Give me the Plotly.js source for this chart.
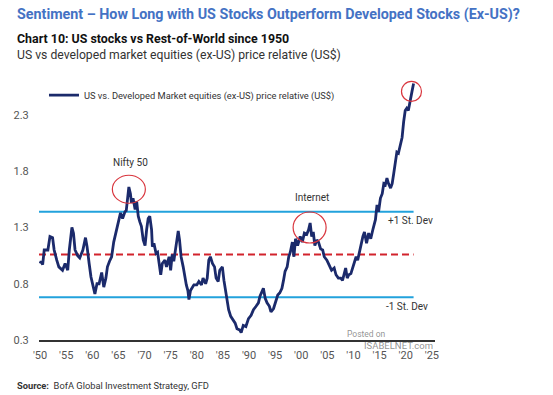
<!DOCTYPE html>
<html>
<head>
<meta charset="utf-8">
<script src="https://cdn.plot.ly/plotly-3.0.1.min.js"></script>
<style>html,body{margin:0;padding:0;background:#fff;}#chart{width:553px;height:395px;}</style>
</head>
<body>
<div id="chart"></div>
<script>
// ---- data ----
const years = [1950.0,1950.2,1950.5,1950.8,1951.5,1951.9,1952.4,1952.7,1953.2,1953.6,1954.3,1954.8,1955.3,1955.6,1956.1,1956.4,1956.7,1957.2,1957.6,1958.2,1958.7,1959.0,1959.4,1959.75,1960.2,1960.5,1960.9,1961.3,1961.8,1962.2,1962.6,1962.9,1963.3,1963.7,1964.1,1964.7,1965.2,1965.4,1965.8,1966.25,1966.5,1966.8,1967.0,1967.3,1967.5,1967.8,1968.2,1968.5,1968.8,1969.1,1969.4,1969.75,1970.1,1970.4,1970.7,1971.0,1971.35,1971.5,1971.8,1972.2,1972.5,1972.8,1973.1,1973.4,1973.9,1974.2,1974.7,1975.0,1975.3,1975.6,1975.9,1976.25,1976.45,1976.7,1977.0,1977.4,1977.7,1978.0,1978.3,1978.5,1978.8,1979.45,1980.0,1980.4,1980.9,1981.2,1981.7,1982.0,1982.3,1982.6,1983.0,1983.4,1983.7,1984.1,1984.4,1984.9,1985.2,1985.6,1985.8,1986.1,1986.5,1986.9,1987.35,1987.7,1988.2,1988.5,1988.9,1989.4,1989.9,1990.4,1990.85,1991.35,1991.8,1992.1,1992.5,1992.75,1993.1,1993.45,1993.9,1994.2,1994.7,1995.2,1995.5,1995.9,1996.3,1996.6,1996.9,1997.3,1997.6,1997.9,1998.3,1998.6,1998.9,1999.3,1999.8,2000.2,2000.6,2001.05,2001.4,2001.7,2002.0,2002.3,2002.6,2003.0,2003.3,2003.7,2004.1,2004.4,2004.9,2005.3,2005.8,2006.3,2006.65,2007.1,2007.55,2007.9,2008.25,2008.5,2008.8,2009.1,2009.5,2009.85,2010.2,2010.5,2010.8,2011.1,2011.4,2011.8,2012.1,2012.5,2012.9,2013.3,2013.7,2014.2,2014.5,2014.8,2015.15,2015.5,2015.8,2016.1,2016.4,2016.7,2017.1,2017.4,2017.7,2018.0,2018.3,2018.6,2018.95,2019.3,2019.6,2019.9,2020.2,2020.5,2020.7,2021.0,2021.2,2021.5];
const relative = [0.98,1.00,0.97,1.10,1.10,1.22,1.21,1.10,1.01,0.95,0.92,0.98,0.92,1.10,1.30,1.25,1.10,1.05,1.03,1.10,1.21,1.13,0.98,0.86,0.77,0.71,0.80,0.80,0.90,0.77,0.85,0.95,1.00,1.04,1.17,1.28,1.37,1.43,1.38,1.44,1.45,1.59,1.66,1.60,1.52,1.56,1.46,1.53,1.40,1.35,1.31,1.19,1.14,1.28,1.38,1.40,1.28,1.13,1.16,1.07,1.08,0.98,0.88,0.98,1.01,0.95,1.04,0.92,1.06,1.00,1.10,1.19,1.27,1.19,1.04,0.95,0.86,0.79,0.74,0.66,0.74,0.79,0.79,0.82,0.79,0.85,0.80,0.85,1.01,1.04,0.98,0.95,0.85,0.82,0.92,0.95,0.83,0.72,0.66,0.57,0.51,0.48,0.45,0.40,0.39,0.365,0.43,0.42,0.49,0.52,0.57,0.60,0.63,0.69,0.74,0.76,0.67,0.63,0.60,0.55,0.58,0.66,0.70,0.72,0.76,0.83,0.91,0.95,1.04,1.08,1.17,1.04,1.20,1.14,1.22,1.17,1.25,1.24,1.28,1.34,1.22,1.26,1.14,1.19,1.17,1.11,1.10,1.04,1.01,0.97,0.92,0.94,0.88,0.85,0.85,0.83,0.91,0.94,0.85,0.88,0.89,0.94,0.98,1.04,1.01,1.08,1.12,1.22,1.26,1.16,1.25,1.20,1.28,1.37,1.50,1.44,1.56,1.60,1.69,1.68,1.74,1.69,1.65,1.69,1.78,1.90,1.97,1.96,2.02,2.10,2.24,2.34,2.36,2.34,2.39,2.45,2.51,2.58];

const bandX = [1949.8, 2021.5];
const plusOneSD = 1.44;
const meanLevel = 1.06;
const minusOneSD = 0.68;

const xTickVals = [1950,1955,1960,1965,1970,1975,1980,1985,1990,1995,2000,2005,2010,2015,2020,2025];
const xTickText = ["'50","'55","'60","'65","'70","'75","'80","'85","'90","'95","'00","'05","'10","'15","'20","'25"];
const yTickVals = [0.3,0.8,1.3,1.8,2.3];
const yTickText = ["0.3","0.8","1.3","1.8","2.3"];

// highlighted episodes
const highlights = [
  {year: 1967.0, value: 1.64, rx: 16.5, ry: 14, label: "Nifty 50", ly: 1.88},
  {year: 2001.6, value: 1.30, rx: 16.5, ry: 15.5, label: "Internet", ly: 1.57},
  {year: 2021.1, value: 2.51, rx: 10, ry: 10, label: "", ly: 0}
];

const FONT = "Roboto, 'Liberation Sans', sans-serif";
const navy = "#1b2a6b";
const lightBlue = "#22a2dc";
const red = "#d2232c";

const traces = [
  {x: bandX, y: [plusOneSD, plusOneSD], mode: "lines", line: {color: lightBlue, width: 2}, showlegend: false, hoverinfo: "skip"},
  {x: bandX, y: [minusOneSD, minusOneSD], mode: "lines", line: {color: lightBlue, width: 2}, showlegend: false, hoverinfo: "skip"},
  {x: bandX, y: [meanLevel, meanLevel], mode: "lines", line: {color: red, width: 2, dash: "7px,4px"}, showlegend: false, hoverinfo: "skip"},
  {x: years, y: relative, mode: "lines", name: "US vs. Developed Market equities (ex-US) price relative (US$)",
   line: {color: navy, width: 2.8}, showlegend: true}
];

const shapes = highlights.map(h => ({
  type: "circle", xref: "x", yref: "y", xsizemode: "pixel", ysizemode: "pixel",
  xanchor: h.year, yanchor: h.value, x0: -h.rx, x1: h.rx, y0: -h.ry, y1: h.ry,
  line: {color: "#d9363e", width: 1.2}
}));

const annotations = [];
highlights.forEach(h => {
  if (h.label) annotations.push({x: h.year + 0.4, y: h.ly, xref: "x", yref: "y", text: h.label, showarrow: false,
    font: {family: FONT, size: 10, color: "#333"}});
});
annotations.push(
  {x: 2016.2, y: plusOneSD - 0.08, xref: "x", yref: "y", xanchor: "left", text: "+1 St. Dev", showarrow: false, font: {family: FONT, size: 10, color: "#333"}},
  {x: 2015.8, y: minusOneSD - 0.08, xref: "x", yref: "y", xanchor: "left", text: "-1 St. Dev", showarrow: false, font: {family: FONT, size: 10, color: "#333"}},
  {x: -0.0606, y: 1.1185, xref: "paper", yref: "paper", xanchor: "left", yanchor: "middle", text: "<b>Chart 10: US stocks vs Rest-of-World since 1950</b>", showarrow: false, font: {family: FONT, size: 12.4, color: "#111"}},
  {x: -0.0606, y: 1.0556, xref: "paper", yref: "paper", xanchor: "left", yanchor: "middle", text: "US vs developed market equities (ex-US) price relative (US$)", showarrow: false, font: {family: FONT, size: 12.2, color: "#333"}},
  {x: -0.0606, y: -0.170, xref: "paper", yref: "paper", xanchor: "left", yanchor: "middle", text: "<b>Source:</b>  BofA Global Investment Strategy, GFD", showarrow: false, font: {family: FONT, size: 9.3, color: "#333"}},
  {x: 0.828, y: 0.024, xref: "paper", yref: "paper", xanchor: "center", yanchor: "middle", text: "Posted on", showarrow: false, font: {family: FONT, size: 8.5, color: "rgba(110,110,110,0.75)"}},
  {x: 0.9066, y: -0.022, xref: "paper", yref: "paper", xanchor: "center", yanchor: "middle", text: "ISABELNET.com", showarrow: false, font: {family: FONT, size: 9.5, color: "rgba(110,110,110,0.75)"}}
);

const layout = {
  width: 553, height: 395,
  margin: {l: 39, r: 118, t: 70, b: 55, pad: 0},
  paper_bgcolor: "#fff", plot_bgcolor: "#fff",
  title: {text: "Sentiment – How Long with US Stocks Outperform Developed Stocks (Ex-US)?",
    xref: "container", yref: "container", x: 17/553, xanchor: "left", y: 1 - 14/395, yanchor: "middle",
    font: {family: FONT, size: 14.3, color: "#4472c4", weight: "bold"}},
  xaxis: {range: [1949.8, 2025.6], tickvals: xTickVals, ticktext: xTickText, showline: true, linecolor: "#333", linewidth: 1.5,
    showgrid: false, zeroline: false, ticks: "outside", ticklen: 4, tickcolor: "rgba(0,0,0,0)",
    tickfont: {family: FONT, size: 11, color: "#555"}, fixedrange: true},
  yaxis: {range: [0.3, 2.7], tickvals: yTickVals, ticktext: yTickText, showline: false, showgrid: false, zeroline: false,
    ticks: "outside", ticklen: 7, tickcolor: "rgba(0,0,0,0)", tickfont: {family: FONT, size: 11, color: "#555"}, fixedrange: true},
  legend: {x: 0.0126, xanchor: "left", y: 0.907, yanchor: "middle", bgcolor: "rgba(0,0,0,0)", borderwidth: 0,
    font: {family: FONT, size: 9.3, color: "#333"}, itemwidth: 30},
  shapes: shapes,
  annotations: annotations,
  showlegend: true
};

Plotly.newPlot("chart", traces, layout, {displayModeBar: false, staticPlot: true});
</script>
</body>
</html>
